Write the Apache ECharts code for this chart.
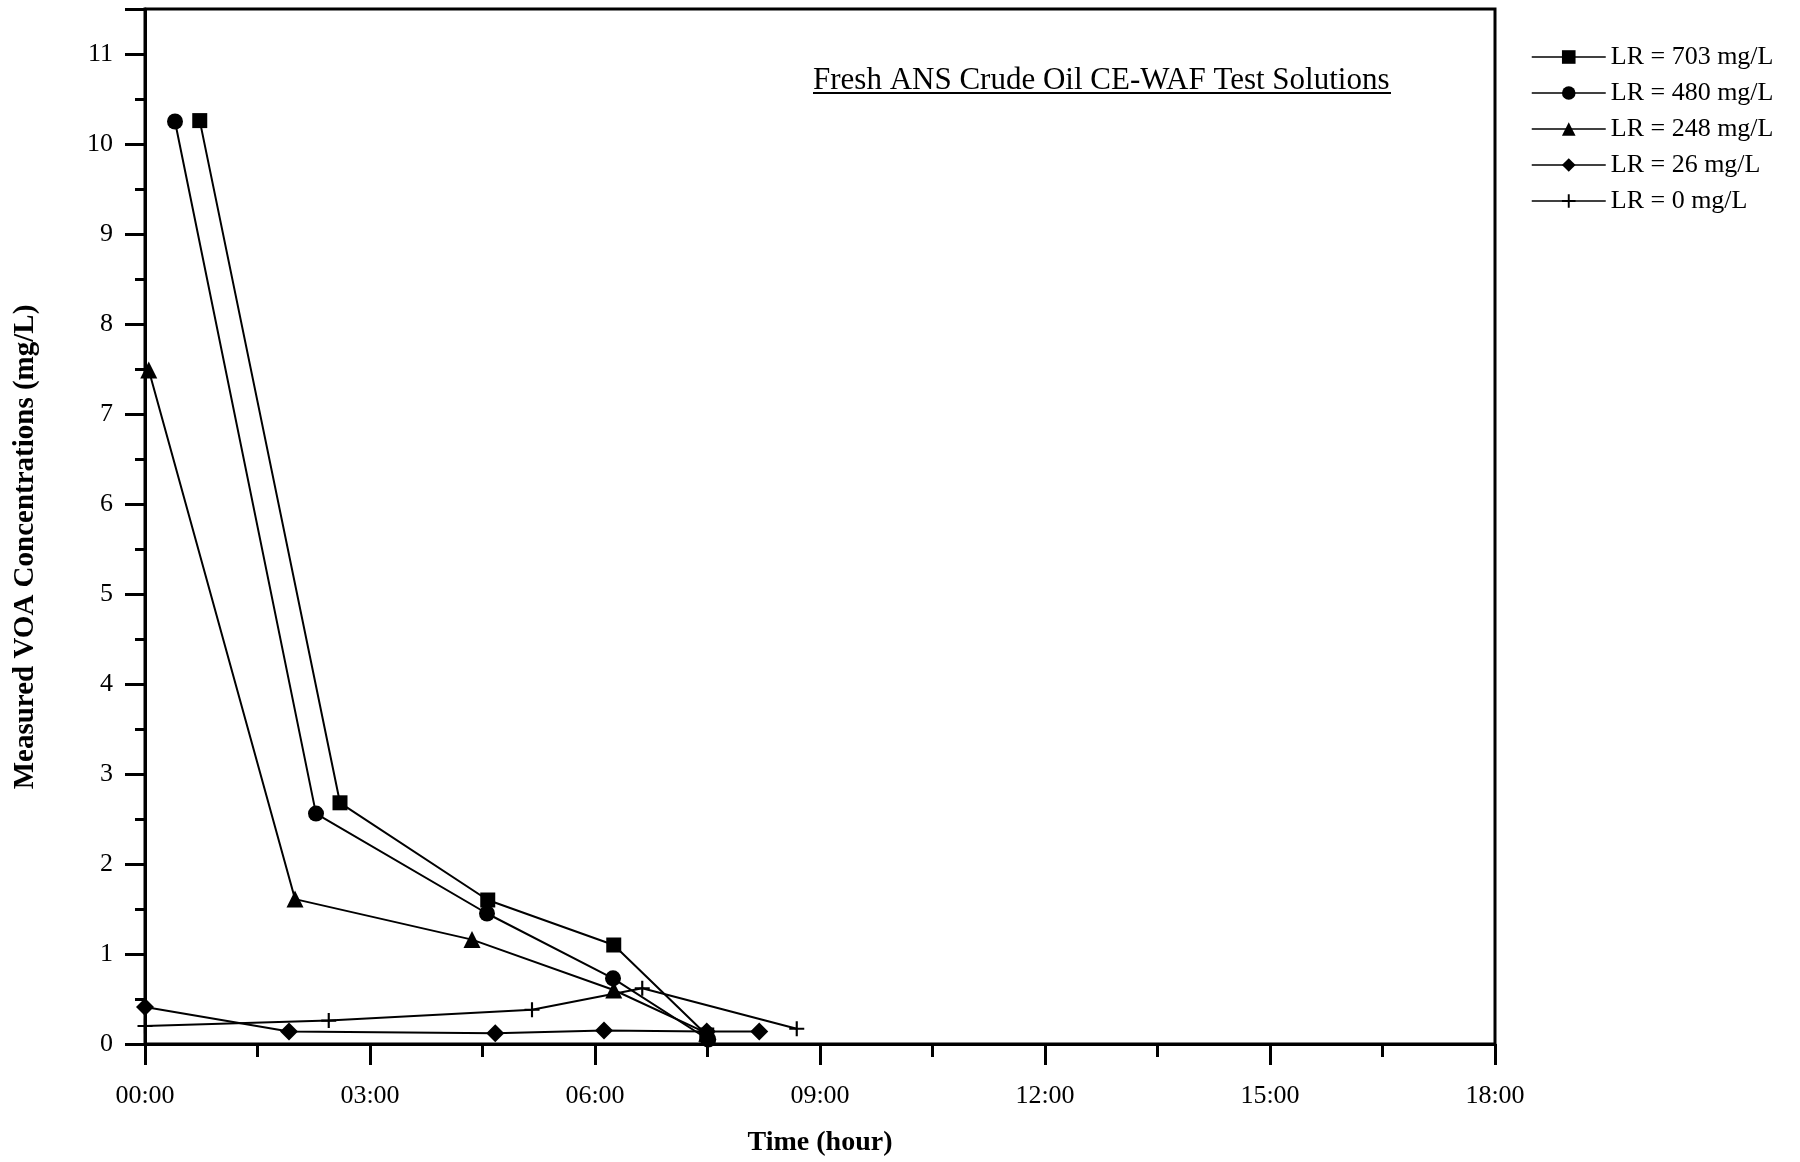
<!DOCTYPE html>
<html>
<head>
<meta charset="utf-8">
<title>Fresh ANS Crude Oil CE-WAF Test Solutions</title>
<script src="https://cdn.jsdelivr.net/npm/echarts@6/dist/echarts.min.js"></script>
<style>
  html, body { margin: 0; padding: 0; background: #fff; }
  #chart { width: 1800px; height: 1162px; }
</style>
</head>
<body>
<div id="chart"></div>
<script>
// Elapsed time (hours) and measured VOA concentration (mg/L) per loading rate
const seriesNames = ['LR = 703 mg/L', 'LR = 480 mg/L', 'LR = 248 mg/L', 'LR = 26 mg/L', 'LR = 0 mg/L'];

const hours703 = [0.73, 2.60, 4.57, 6.25, 7.49];
const voa703   = [10.26, 2.68, 1.60, 1.10, 0.10];

const hours480 = [0.40, 2.28, 4.56, 6.24, 7.51];
const voa480   = [10.25, 2.56, 1.45, 0.73, 0.05];

const hours248 = [0.05, 2.00, 4.36, 6.25, 7.49];
const voa248   = [7.49, 1.61, 1.16, 0.60, 0.12];

const hours26  = [0.00, 1.92, 4.67, 6.12, 7.49, 8.19];
const voa26    = [0.41, 0.14, 0.12, 0.15, 0.14, 0.14];

const hours0   = [0.00, 2.45, 5.16, 6.63, 8.69];
const voa0     = [0.20, 0.26, 0.38, 0.62, 0.17];

// Axis settings
const xTicksHours = [0, 3, 6, 9, 12, 15, 18];
const yTickValues = [0, 1, 2, 3, 4, 5, 6, 7, 8, 9, 10, 11];

const FONT = '"Liberation Serif", "Times New Roman", serif';
const PLUS_PATH = 'path://M-1,-7L1,-7L1,-1L7,-1L7,1L1,1L1,7L-1,7L-1,1L-7,1L-7,-1L-1,-1Z';

function pairs(xs, ys) {
  return xs.map((x, i) => [x, ys[i]]);
}

function hhmm(h) {
  const hh = Math.floor(h);
  return (hh < 10 ? '0' : '') + hh + ':00';
}

function makeSeries(name, xs, ys, symbol, size) {
  return {
    name: name,
    type: 'line',
    data: pairs(xs, ys),
    symbol: symbol,
    symbolSize: size,
    showAllSymbol: true,
    lineStyle: { color: '#000', width: 2 },
    itemStyle: { color: '#000' },
    emphasis: { disabled: true },
    z: 3
  };
}

const chart = echarts.init(document.getElementById('chart'), null, { renderer: 'canvas' });

chart.setOption({
  animation: false,
  backgroundColor: '#fff',
  textStyle: { fontFamily: FONT, color: '#000' },
  grid: {
    left: 145, right: 305, top: 9, bottom: 118,
    outerBoundsMode: 'none',
    containLabel: false,
    show: true,
    borderColor: '#000',
    borderWidth: 3,
    backgroundColor: 'transparent'
  },
  legend: {
    orient: 'vertical',
    left: 1531,
    top: 44,
    padding: 0,
    itemWidth: 74,
    itemHeight: 17,
    itemGap: 10,
    data: seriesNames,
    textStyle: { fontFamily: FONT, fontSize: 26, color: '#000' },
    lineStyle: { width: 1.5 }
  },
  xAxis: {
    type: 'value',
    min: xTicksHours[0],
    max: xTicksHours[xTicksHours.length - 1],
    interval: 3,
    name: 'Time (hour)',
    nameLocation: 'middle',
    nameGap: 85,
    nameTextStyle: { fontFamily: FONT, fontSize: 28, fontWeight: 'bold', color: '#000' },
    axisLine: { show: true, onZero: false, lineStyle: { color: '#000', width: 3 } },
    axisTick: { show: true, inside: false, length: 21, lineStyle: { color: '#000', width: 3 } },
    minorTick: { show: true, splitNumber: 2, length: 13, lineStyle: { color: '#000', width: 3 } },
    splitLine: { show: false },
    axisLabel: {
      margin: 39,
      fontFamily: FONT,
      fontSize: 26,
      color: '#000',
      formatter: v => xTicksHours.includes(v) ? hhmm(v) : ''
    }
  },
  yAxis: {
    type: 'value',
    min: 0,
    max: 11.5,
    interval: 1,
    axisLine: { show: true, onZero: false, lineStyle: { color: '#000', width: 3 } },
    axisTick: { show: true, inside: false, length: 20, lineStyle: { color: '#000', width: 3 } },
    minorTick: { show: true, splitNumber: 2, length: 10, lineStyle: { color: '#000', width: 3 } },
    splitLine: { show: false },
    axisLabel: {
      margin: 32,
      fontFamily: FONT,
      fontSize: 26,
      color: '#000',
      formatter: v => yTickValues.includes(v) ? String(v) : ''
    }
  },
  graphic: [
    {
      // vertical axis title, placed slightly below the plot's mid-height
      type: 'text',
      x: 26,
      y: 547,
      rotation: Math.PI / 2,
      style: {
        text: 'Measured VOA Concentrations (mg/L)',
        font: 'bold 29px ' + FONT,
        fill: '#000',
        align: 'center',
        verticalAlign: 'middle'
      }
    },
    {
      type: 'text',
      left: 813,
      top: 65,
      style: {
        text: 'Fresh ANS Crude Oil CE-WAF Test Solutions',
        font: '31px ' + FONT,
        fill: '#000'
      }
    },
    {
      type: 'line',
      shape: { x1: 813, y1: 93, x2: 1391, y2: 93 },
      style: { stroke: '#000', lineWidth: 2 }
    }
  ],
  series: [
    makeSeries(seriesNames[0], hours703, voa703, 'rect', 15),
    makeSeries(seriesNames[1], hours480, voa480, 'circle', 16),
    makeSeries(seriesNames[2], hours248, voa248, 'triangle', 17),
    makeSeries(seriesNames[3], hours26, voa26, 'diamond', 18),
    makeSeries(seriesNames[4], hours0, voa0, PLUS_PATH, 15)
  ]
});
</script>
</body>
</html>
